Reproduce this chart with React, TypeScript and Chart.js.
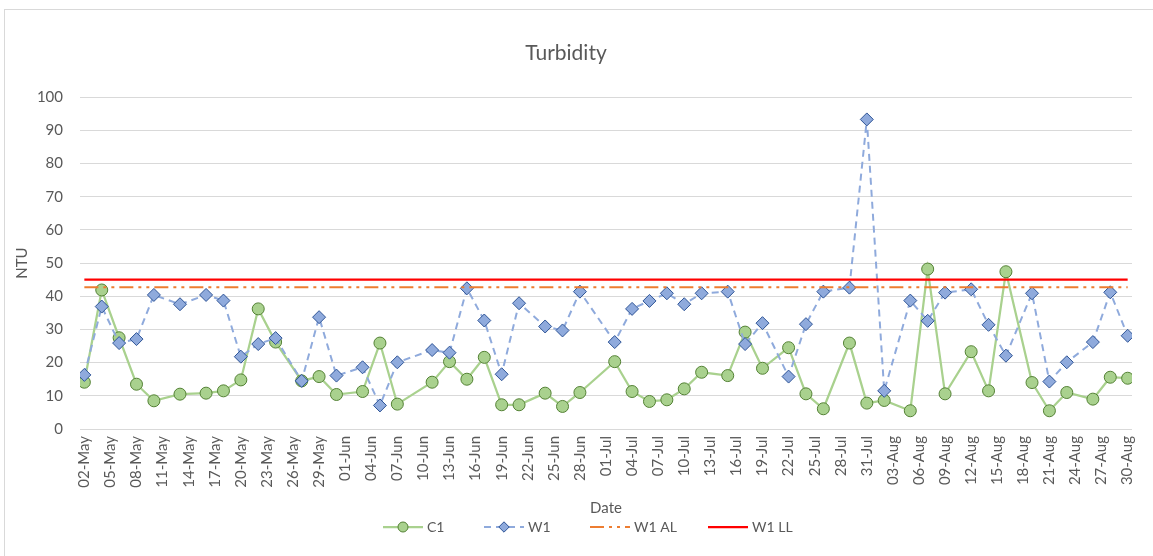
import React, { useEffect, useRef } from "react";
import { Chart, registerables } from "chart.js";

Chart.register(...registerables);

// ---- data ----
const axisStartDate = "2023-05-02";
const axisEndDate = "2023-08-30";
const tickEveryDays = 3;
const monthNames = ["Jan", "Feb", "Mar", "Apr", "May", "Jun", "Jul", "Aug", "Sep", "Oct", "Nov", "Dec"];

const sampleDates = [
  "2023-05-02", "2023-05-04", "2023-05-06", "2023-05-08", "2023-05-10", "2023-05-13", "2023-05-16",
  "2023-05-18", "2023-05-20", "2023-05-22", "2023-05-24", "2023-05-27", "2023-05-29", "2023-05-31",
  "2023-06-03", "2023-06-05", "2023-06-07", "2023-06-11", "2023-06-13", "2023-06-15", "2023-06-17",
  "2023-06-19", "2023-06-21", "2023-06-24", "2023-06-26", "2023-06-28", "2023-07-02", "2023-07-04",
  "2023-07-06", "2023-07-08", "2023-07-10", "2023-07-12", "2023-07-15", "2023-07-17", "2023-07-19",
  "2023-07-22", "2023-07-24", "2023-07-26", "2023-07-29", "2023-07-31", "2023-08-02", "2023-08-05",
  "2023-08-07", "2023-08-09", "2023-08-12", "2023-08-14", "2023-08-16", "2023-08-19", "2023-08-21",
  "2023-08-23", "2023-08-26", "2023-08-28", "2023-08-30",
];

const c1Values = [
  14.1, 41.9, 27.5, 13.5, 8.5, 10.5, 10.8,
  11.5, 14.8, 36.2, 26.2, 14.5, 15.8, 10.4,
  11.3, 25.9, 7.5, 14.1, 20.3, 15.0, 21.6,
  7.3, 7.3, 10.8, 6.8, 11.0, 20.3, 11.3,
  8.3, 8.8, 12.1, 17.1, 16.1, 29.2, 18.3,
  24.5, 10.6, 6.1, 25.9, 7.8, 8.6, 5.5,
  48.2, 10.6, 23.3, 11.5, 47.4, 14.0, 5.5,
  11.0, 9.0, 15.6, 15.3,
];

const w1Values = [
  16.3, 36.9, 25.9, 27.1, 40.4, 37.6, 40.4,
  38.7, 21.8, 25.6, 27.4, 14.5, 33.7, 16.1,
  18.6, 7.1, 20.1, 23.8, 23.0, 42.4, 32.7,
  16.5, 37.9, 30.9, 29.7, 41.4, 26.2, 36.2,
  38.6, 40.9, 37.6, 40.9, 41.4, 25.6, 31.9,
  15.8, 31.6, 41.4, 42.6, 93.3, 11.5, 38.7,
  32.6, 41.1, 42.1, 31.4, 22.1, 40.9, 14.3,
  20.1, 26.2, 41.2, 28.1,
];

const w1AlertLevel = 42.75;
const w1LimitLevel = 45;

const yMin = 0;
const yMax = 100;
const yStep = 10;

// ---- helpers ----
const DAY_MS = 86400000;
function toUTC(iso: string) {
  const [y, m, d] = iso.split("-").map(Number);
  return Date.UTC(y, m - 1, d);
}
const startMs = toUTC(axisStartDate);
const endIndex = Math.round((toUTC(axisEndDate) - startMs) / DAY_MS);
function dayIndex(iso: string) {
  return Math.round((toUTC(iso) - startMs) / DAY_MS);
}
function dayLabel(idx: number) {
  const d = new Date(startMs + idx * DAY_MS);
  const dd = String(d.getUTCDate()).padStart(2, "0");
  return dd + "-" + monthNames[d.getUTCMonth()];
}

const FONT = "Lato, 'Open Sans', sans-serif";
const TEXT = "#595959";

const legendStarts = [383, 484, 590, 708];
const legendY = 527;

const frameAndLegend = {
  id: "frameAndLegend",
  beforeDraw(chart: any) {
    const ctx = chart.ctx;
    ctx.save();
    ctx.fillStyle = "#ffffff";
    ctx.fillRect(0, 0, chart.width, chart.height);
    ctx.strokeStyle = "#d9d9d9";
    ctx.lineWidth = 1;
    ctx.strokeRect(4.5, 9.5, chart.width + 20, chart.height + 20);
    ctx.restore();
  },
  afterDraw(chart: any) {
    const ctx = chart.ctx;
    ctx.save();
    chart.data.datasets.forEach((ds: any, i: number) => {
      const x0 = legendStarts[i];
      ctx.save();
      ctx.beginPath();
      ctx.strokeStyle = ds.borderColor;
      ctx.lineWidth = ds.borderWidth;
      ctx.setLineDash(ds.borderDash || []);
      ctx.moveTo(x0, legendY);
      ctx.lineTo(x0 + 40, legendY);
      ctx.stroke();
      ctx.restore();
      if (ds.pointRadius > 0) {
        ctx.save();
        ctx.fillStyle = ds.pointBackgroundColor;
        ctx.strokeStyle = ds.pointBorderColor;
        ctx.lineWidth = 1;
        ctx.setLineDash([]);
        const cx = x0 + 20;
        const r = ds.pointStyle === "circle" ? 5 : 5.2;
        ctx.beginPath();
        if (ds.pointStyle === "circle") {
          ctx.arc(cx, legendY, r, 0, Math.PI * 2);
        } else {
          ctx.moveTo(cx, legendY - r);
          ctx.lineTo(cx + r, legendY);
          ctx.lineTo(cx, legendY + r);
          ctx.lineTo(cx - r, legendY);
          ctx.closePath();
        }
        ctx.fill();
        ctx.stroke();
        ctx.restore();
      }
      ctx.fillStyle = TEXT;
      ctx.font = "14px " + FONT;
      ctx.textAlign = "left";
      ctx.textBaseline = "middle";
      ctx.fillText(ds.label, x0 + 44, legendY);
    });
    ctx.restore();
  },
};

export default function App() {
  const canvasRef = useRef<HTMLCanvasElement | null>(null);

  useEffect(() => {
    document.body.style.margin = "0";
    const canvas = canvasRef.current;
    if (!canvas) return;

    const c1Data = sampleDates.map((d, i) => ({ x: dayIndex(d), y: c1Values[i] }));
    const w1Data = sampleDates.map((d, i) => ({ x: dayIndex(d), y: w1Values[i] }));
    const firstX = dayIndex(sampleDates[0]);
    const lastX = dayIndex(sampleDates[sampleDates.length - 1]);

    const chart = new Chart(canvas, {
      type: "line",
      data: {
        datasets: [
          {
            label: "C1",
            data: c1Data,
            borderColor: "#A9D18E",
            borderWidth: 2.25,
            pointStyle: "circle",
            pointRadius: 6,
            pointBackgroundColor: "#A9D18E",
            pointBorderColor: "#548235",
            pointBorderWidth: 1,
            tension: 0,
            order: 3,
          },
          {
            label: "W1",
            data: w1Data,
            borderColor: "#8FAADC",
            borderWidth: 2,
            borderDash: [7, 5],
            pointStyle: "rectRot",
            pointRadius: 6.5,
            pointBackgroundColor: "#8FAADC",
            pointBorderColor: "#2F5597",
            pointBorderWidth: 1,
            tension: 0,
            order: 2,
          },
          {
            label: "W1 AL",
            data: [
              { x: firstX, y: w1AlertLevel },
              { x: lastX, y: w1AlertLevel },
            ],
            borderColor: "#ED7D31",
            borderWidth: 2,
            borderDash: [14, 5, 3, 5, 3, 5],
            pointRadius: 0,
            order: 1,
          },
          {
            label: "W1 LL",
            data: [
              { x: firstX, y: w1LimitLevel },
              { x: lastX, y: w1LimitLevel },
            ],
            borderColor: "#FF0000",
            borderWidth: 2.25,
            pointRadius: 0,
            order: 0,
          },
        ] as any,
      },
      options: {
        responsive: false,
        animation: false,
        devicePixelRatio: 1,
        layout: { padding: { left: 0, right: 21, top: 0, bottom: 39 } },
        plugins: {
          legend: { display: false },
          tooltip: { enabled: false },
          title: {
            display: true,
            text: "Turbidity",
            color: TEXT,
            font: { family: FONT, size: 21, weight: "normal" },
            padding: { top: 41, bottom: 31 },
          },
        },
        scales: {
          x: {
            type: "linear",
            min: -0.5,
            max: endIndex + 0.5,
            afterBuildTicks: (scale: any) => {
              const t = [];
              for (let v = 0; v <= endIndex; v += tickEveryDays) t.push({ value: v });
              scale.ticks = t;
            },
            afterFit: (scale: any) => {
              scale.height = 88;
            },
            grid: { display: false, drawTicks: false },
            border: { display: false },
            ticks: {
              autoSkip: false,
              minRotation: 90,
              maxRotation: 90,
              padding: 7,
              color: TEXT,
              font: { family: FONT, size: 15 },
              callback: (v: any) => dayLabel(Number(v)),
            },
            title: {
              display: true,
              text: "Date",
              color: TEXT,
              font: { family: FONT, size: 15 },
              padding: { top: 0, bottom: 0 },
            },
          },
          y: {
            min: yMin,
            max: yMax,
            afterFit: (scale: any) => {
              scale.width = 80;
            },
            grid: { color: "#d9d9d9", lineWidth: 1, drawTicks: false },
            border: { display: false },
            ticks: {
              stepSize: yStep,
              padding: 17,
              color: TEXT,
              font: { family: FONT, size: 15 },
            },
            title: {
              display: true,
              text: "NTU",
              color: TEXT,
              font: { family: FONT, size: 15 },
              padding: { top: 13, bottom: 0 },
            },
          },
        },
      } as any,
      plugins: [frameAndLegend],
    });

    return () => chart.destroy();
  }, []);

  return (
    <div style={{ width: 1153, height: 556 }}>
      <canvas ref={canvasRef} width={1153} height={556} style={{ display: "block" }} />
    </div>
  );
}
